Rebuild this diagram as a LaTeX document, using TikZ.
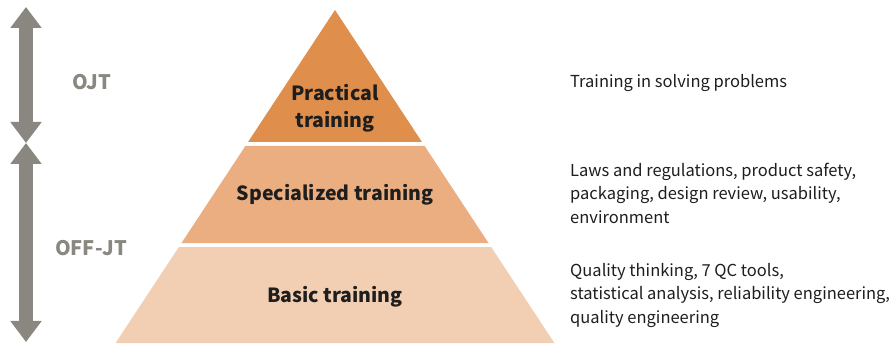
\documentclass[tikz,border=0pt]{standalone}
\usepackage{fontspec}
\setmainfont{Noto Sans CJK JP}
\usepackage{tikz}
\usetikzlibrary{arrows.meta,positioning,calc}
\definecolor{trtop}{HTML}{E08E4C}
\definecolor{trmid}{HTML}{EBAE81}
\definecolor{trbase}{HTML}{F2CFB2}
\definecolor{trgrey}{HTML}{898780}
\definecolor{trtext}{HTML}{1E1E1E}
\tikzset{
  tier/.style={draw=none},
  tierlab/.style={font=\fontsize{19.5}{27}\selectfont\bfseries,text=trtext,align=center,inner sep=0pt},
  desc/.style={font=\fontsize{16.5}{23.5}\selectfont,text=trtext,align=left,anchor=west,inner sep=0pt},
  span/.style={{Triangle[width=30pt,length=21pt]}-{Triangle[width=30pt,length=21pt]},line width=14pt,trgrey},
  spanlab/.style={font=\fontsize{20}{24}\selectfont\bfseries,text=trgrey,inner sep=0pt},
}
\begin{document}
\begin{tikzpicture}[x=1pt,y=1pt]
  \useasboundingbox (0,0) rectangle (895,343);
  \coordinate (apex) at (335,333);
  \coordinate (bl) at (115.6,0);
  \coordinate (br) at (554.4,0);
  \fill[trtop,tier] (apex) -- ($(apex)!0.396!(br)$) -- ($(apex)!0.396!(bl)$) -- cycle;
  \fill[trmid,tier] ($(apex)!0.408!(bl)$) -- ($(apex)!0.408!(br)$) -- ($(apex)!0.700!(br)$) -- ($(apex)!0.700!(bl)$) -- cycle;
  \fill[trbase,tier] ($(apex)!0.712!(bl)$) -- ($(apex)!0.712!(br)$) -- (br) -- (bl) -- cycle;
  \node[tierlab] (prac) at (335,235) {Practical\\training};
  \node[tierlab] (spec) at (335,148) {Specialized training};
  \node[tierlab] (basic) at (335,46) {Basic training};
  \coordinate (descx) at (570,260);
  \node[desc] (dprac) at (descx) {Training in solving problems};
  \node[desc] (dspec) at (570,150) {Laws and regulations, product safety,\\packaging, design review, usability,\\environment};
  \node[desc] (dbasic) at (570,48) {Quality thinking, 7 QC tools,\\statistical analysis, reliability engineering,\\quality engineering};
  \coordinate (ojttop) at (26,336);
  \coordinate (ojtbot) at (26,200);
  \coordinate (offbot) at (26,1);
  \draw[span] (ojttop) -- (ojtbot);
  \draw[span] (ojtbot) -- (offbot);
  \node[spanlab] (ojt) at (91.5,261) {OJT};
  \node[spanlab] (offjt) at (91,95) {OFF-JT};
\end{tikzpicture}
\end{document}
